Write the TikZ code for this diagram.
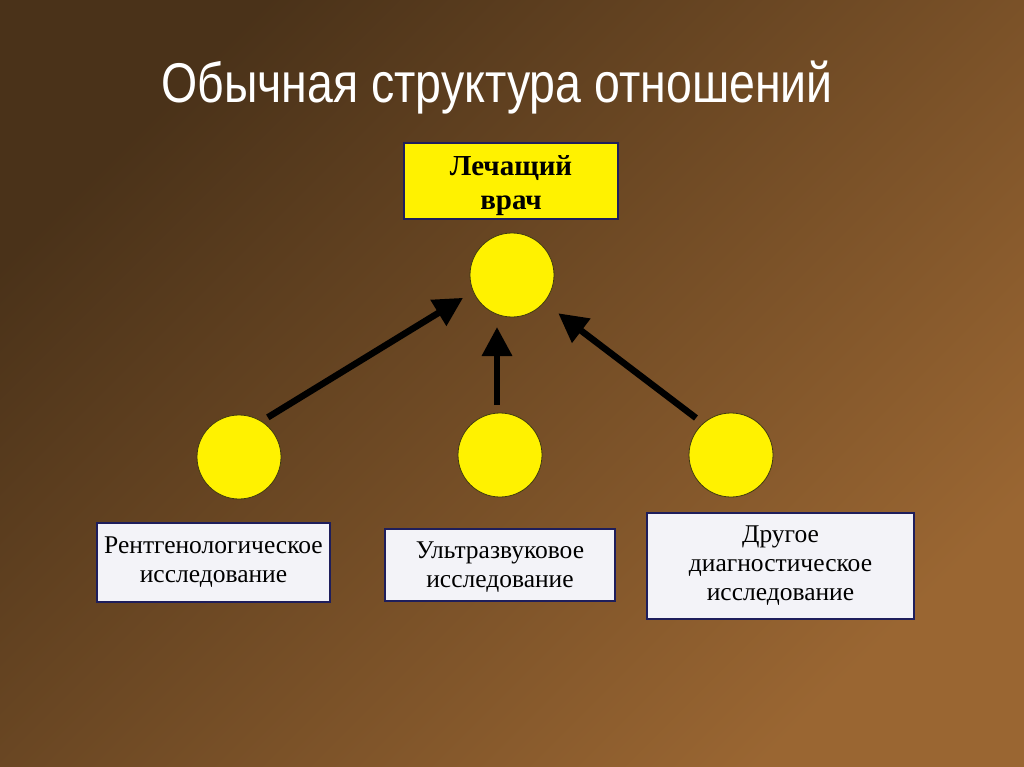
\documentclass[tikz,border=0pt]{standalone}
\usepackage{fontspec}
\setmainfont{Liberation Serif}
\newfontfamily\titlefont[FakeStretch=0.83]{Liberation Sans}
\usetikzlibrary{arrows.meta}
\definecolor{bgdark}{HTML}{4A3219}
\definecolor{bglight}{HTML}{9A6632}
\definecolor{boxline}{HTML}{1E1E5C}
\definecolor{boxfill}{HTML}{F3F3F8}
\definecolor{circline}{HTML}{403A10}
\tikzset{
  ybox/.style={draw=boxline, line width=1.5pt, fill=yellow, inner sep=0pt, align=center,
    font=\bfseries\fontsize{29}{34}\selectfont},
  wbox/.style={draw=boxline, line width=1.5pt, fill=boxfill, inner sep=0pt, align=center,
    font=\fontsize{25.5}{29}\selectfont},
  dot/.style={circle, draw=circline, line width=0.8pt, fill=yellow, minimum size=84pt, inner sep=0pt, outer sep=0pt},
  arr/.style={line width=6.5pt, -{Triangle[length=29pt,width=29pt]}},
}
\begin{document}
\begin{tikzpicture}[x=1pt,y=-1pt]
\useasboundingbox (0,0) rectangle (1024,767);
\shade[top color=bgdark, bottom color=bglight, shading angle=45] (0,0) rectangle (1024,767);
\node[anchor=base, text=white, font=\titlefont\fontsize{56}{60}\selectfont] (title) at (497,103) {Обычная структура отношений};
\node[ybox, minimum width=214pt, minimum height=76pt] (doc) at (511,181) {};
\node[font=\bfseries\fontsize{29}{34}\selectfont, align=center, inner sep=0pt] (doctext) at (511,186) {Лечащий\\врач};
\node[dot] (c0) at (512,275) {};
\node[dot] (c1) at (239,457) {};
\node[dot] (c2) at (500,455) {};
\node[dot] (c3) at (731,455) {};
\draw[arr] ([shift={(54:49pt)}]c1.center) -- ([shift={(205:54pt)}]c0.center);
\draw[arr] ([shift={(-3pt,50pt)}]c2.center) -- ([shift={(-3pt,128pt)}]c2.center);
\draw[arr] ([shift={(133.4:51pt)}]c3.center) -- ([shift={(320.4:60pt)}]c0.center);
\node[wbox, minimum width=233pt, minimum height=79pt] (b1) at (213.5,562.5) {Рентгенологическое\\исследование};
\node[wbox, minimum width=230pt, minimum height=72pt] (b2) at (500,565) {};
\node[font=\fontsize{25.5}{29}\selectfont, align=center, inner sep=0pt] (b2text) at (500,567) {Ультразвуковое\\исследование};
\node[wbox, minimum width=267pt, minimum height=106pt] (b3) at (780.5,566) {Другое\\диагностическое\\исследование};
\end{tikzpicture}
\end{document}
